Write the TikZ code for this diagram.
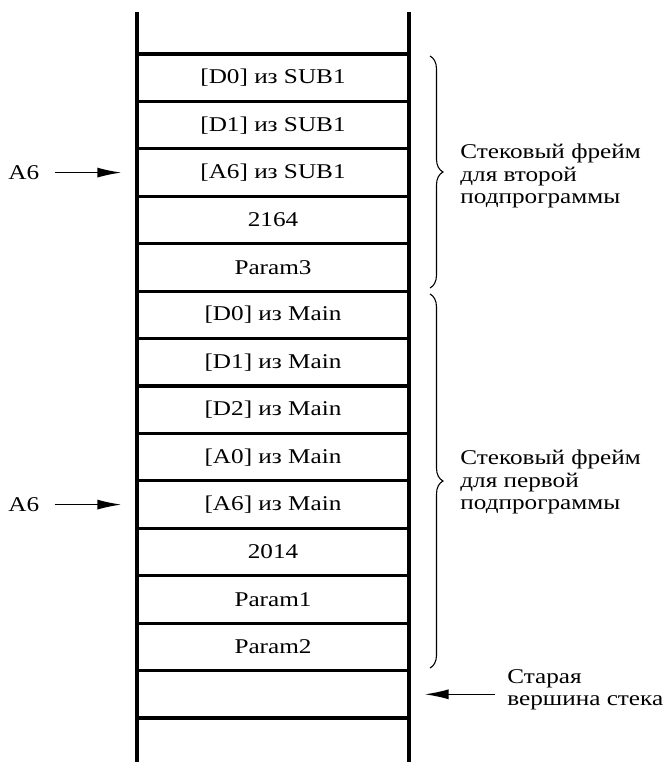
\documentclass[tikz,border=0pt]{standalone}
\usepackage{fontspec}
\setmainfont{Liberation Serif}[FakeStretch=1.2]
\usetikzlibrary{arrows.meta,decorations.pathreplacing}
\begin{document}
\begin{tikzpicture}[x=0.5pt,y=-0.5pt,
  font=\fontsize{10.5}{11.25}\selectfont,
  cell/.style={draw, line width=1.6pt, minimum width=136pt, minimum height=23.71pt, inner sep=0pt},
  wall/.style={line width=1.6pt},
  pointer/.style={-{Latex[length=12pt,width=5pt]}, line width=0.7pt},
  bracket/.style={decorate, decoration={brace, amplitude=6.5pt}, line width=0.55pt},
  note/.style={anchor=west, align=left, inner sep=0pt}]
\useasboundingbox (0,0) rectangle (664,762);

% stack cells, top to bottom
\foreach [count=\i] \t in {{[D0] из SUB1},{[D1] из SUB1},{[A6] из SUB1},{2164},{Param3},
    {[D0] из Main},{[D1] из Main},{[D2] из Main},{[A0] из Main},{[A6] из Main},
    {2014},{Param1},{Param2},{}}
  \node[cell] (c\i) at (273, {54+(\i-0.5)*47.43}) {\t};

% open side walls of the stack
\coordinate (tl) at (137,12);
\coordinate (bl) at (137,770);
\coordinate (tr) at (409,12);
\coordinate (br) at (409,770);
\draw[wall] (tl) -- (bl);
\draw[wall] (tr) -- (br);

% frame pointers
\node[anchor=west, inner sep=0pt] (p1) at (8, {54+2.5*47.43}) {A6};
\node[anchor=west, inner sep=0pt] (p2) at (8, {54+9.5*47.43}) {A6};
\draw[pointer, shorten <=7.5pt, shorten >=7pt] (p1) -- (c3);
\draw[pointer, shorten <=7.5pt, shorten >=7pt] (p2) -- (c10);

% frame braces
\coordinate (b1s) at (430,56);
\coordinate (b1e) at (430,288);
\coordinate (b2s) at (430,294);
\coordinate (b2e) at (430,668);
\draw[bracket] (b1s) -- (b1e);
\draw[bracket] (b2s) -- (b2e);
\node[note] (f2) at (460,176) {Стековый фрейм\\для второй\\подпрограммы};
\node[note] (f1) at (460,482) {Стековый фрейм\\для первой\\подпрограммы};

% old top of stack
\node[note] (old) at (507,690) {Старая\\вершина стека};
\draw[pointer, shorten <=6pt, shorten >=7pt] (old.west |- c14.east) -- (c14.east);
\end{tikzpicture}
\end{document}
